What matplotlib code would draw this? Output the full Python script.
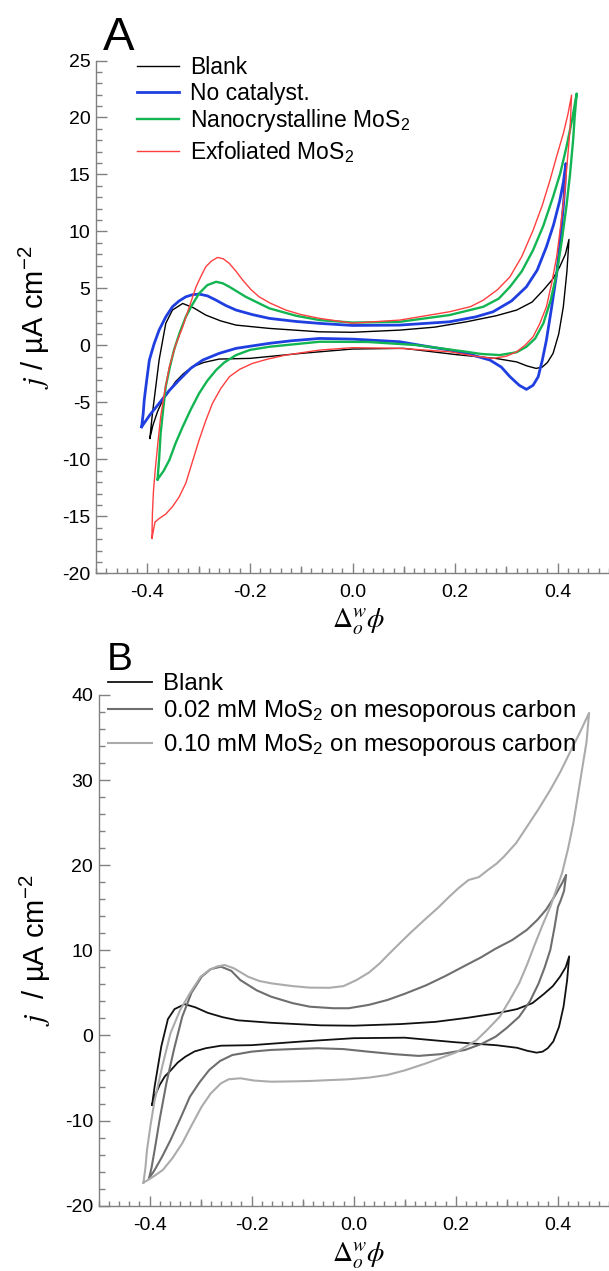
import matplotlib
matplotlib.use("Agg")
import matplotlib.pyplot as plt
from matplotlib.lines import Line2D
from matplotlib.ticker import MultipleLocator, FormatStrFormatter, NullLocator

plt.rcParams["font.family"] = ["Liberation Sans", "DejaVu Sans"]
plt.rcParams["mathtext.fontset"] = "stix"
plt.rcParams["axes.unicode_minus"] = False

# ---- Panel A: CVs (potential V, current density uA cm-2), forward then reverse sweep ----
blank_x = [-0.395, -0.390, -0.377, -0.364, -0.351, -0.331, -0.310, -0.286, -0.257, -0.227,
           -0.162, -0.064, 0.000, 0.092, 0.160, 0.222, 0.280, 0.320, 0.350, 0.372, 0.390,
           0.404, 0.415, 0.422,
           0.418, 0.411, 0.402, 0.391, 0.380, 0.370, 0.358, 0.340, 0.320, 0.280, 0.200,
           0.100, 0.000, -0.100, -0.200, -0.260, -0.290, -0.312, -0.330, -0.345, -0.360,
           -0.370, -0.380, -0.389, -0.395]
blank_y = [-8.16, -5.97, -1.29, 1.93, 3.10, 3.68, 3.30, 2.66, 2.15, 1.78,
           1.49, 1.19, 1.15, 1.34, 1.60, 2.07, 2.60, 3.10, 3.80, 4.85, 5.80,
           6.90, 8.00, 9.30,
           6.50, 3.40, 1.00, -0.70, -1.50, -1.90, -2.02, -1.80, -1.45, -1.15, -0.80,
           -0.26, -0.32, -0.70, -1.14, -1.20, -1.50, -1.88, -2.50, -3.19, -4.20,
           -4.80, -5.80, -7.00, -8.16]

nocat_x = [-0.411, -0.408, -0.406, -0.401, -0.396, -0.387, -0.377, -0.364, -0.351, -0.338,
           -0.325, -0.312, -0.299, -0.283, -0.266, -0.247, -0.227, -0.195, -0.162, -0.110,
           -0.064, 0.000, 0.092, 0.189, 0.240, 0.274, 0.310, 0.339, 0.360, 0.378, 0.392,
           0.404, 0.411, 0.416,
           0.414, 0.411, 0.405, 0.398, 0.388, 0.378, 0.370, 0.362, 0.352, 0.339, 0.325,
           0.307, 0.290, 0.268, 0.230, 0.189, 0.140, 0.092, 0.000, -0.064, -0.120, -0.162,
           -0.227, -0.260, -0.292, -0.315, -0.338, -0.358, -0.377, -0.395, -0.411]
nocat_y = [-7.14, -6.00, -4.80, -3.00, -1.29, 0.10, 1.34, 2.50, 3.39, 3.90,
           4.26, 4.45, 4.50, 4.35, 3.97, 3.50, 3.10, 2.70, 2.37, 2.10,
           1.93, 1.75, 1.78, 2.07, 2.50, 2.95, 3.90, 5.14, 6.60, 8.65, 10.6,
           12.7, 14.3, 15.96,
           14.0, 12.2, 9.20, 6.30, 3.30, 0.46, -1.30, -2.75, -3.50, -3.86, -3.50,
           -2.75, -1.90, -1.29, -0.80, -0.41, -0.05, 0.32, 0.55, 0.61, 0.40, 0.18,
           -0.26, -0.70, -1.29, -2.00, -3.04, -4.00, -5.09, -6.10, -7.14]

nano_x = [-0.380, -0.377, -0.374, -0.369, -0.364, -0.356, -0.348, -0.337, -0.325, -0.312,
          -0.299, -0.283, -0.266, -0.253, -0.240, -0.208, -0.162, -0.110, -0.064, 0.000,
          0.092, 0.189, 0.255, 0.285, 0.307, 0.330, 0.352, 0.372, 0.391, 0.405, 0.417,
          0.428, 0.437,
          0.433, 0.430, 0.424, 0.417, 0.408, 0.398, 0.386, 0.372, 0.356, 0.339, 0.320,
          0.287, 0.250, 0.222, 0.124, 0.030, -0.064, -0.162, -0.200, -0.227, -0.250,
          -0.266, -0.283, -0.299, -0.315, -0.331, -0.345, -0.357, -0.368, -0.380]
nano_y = [-11.76, -10.0, -7.70, -5.60, -3.60, -1.90, -0.41, 1.10, 2.50, 3.60,
          4.56, 5.29, 5.58, 5.45, 5.14, 4.26, 3.25, 2.60, 2.22, 2.00,
          2.07, 2.66, 3.39, 4.10, 5.14, 6.50, 8.36, 10.5, 13.04, 15.1, 17.4,
          19.8, 22.1,
          20.0, 18.0, 15.0, 12.2, 9.20, 6.30, 3.90, 1.93, 0.60, -0.12, -0.60,
          -0.85, -0.75, -0.56, 0.03, 0.30, 0.32, -0.12, -0.40, -0.85, -1.50,
          -2.17, -3.10, -4.21, -5.60, -7.14, -8.60, -10.06, -11.0, -11.76]

exf_x = [-0.391, -0.390, -0.388, -0.384, -0.379, -0.374, -0.366, -0.357, -0.345, -0.331,
         -0.318, -0.305, -0.295, -0.286, -0.275, -0.263, -0.252, -0.240, -0.227, -0.214,
         -0.198, -0.182, -0.160, -0.130, -0.100, -0.064, 0.000, 0.092, 0.189, 0.230,
         0.255, 0.283, 0.307, 0.330, 0.352, 0.370, 0.385, 0.398, 0.411, 0.420, 0.427,
         0.424, 0.419, 0.414, 0.406, 0.398, 0.388, 0.378, 0.365, 0.352, 0.336, 0.320,
         0.300, 0.274, 0.240, 0.189, 0.092, 0.000, -0.064, -0.130, -0.165, -0.195,
         -0.220, -0.240, -0.257, -0.273, -0.286, -0.299, -0.312, -0.325, -0.338, -0.351,
         -0.364, -0.377, -0.385, -0.391]
exf_y = [-16.93, -14.7, -12.8, -10.65, -8.40, -6.26, -4.00, -1.88, 0.00, 1.63,
         3.40, 5.14, 6.10, 6.90, 7.40, 7.72, 7.60, 7.19, 6.50, 5.73,
         4.90, 4.26, 3.70, 3.10, 2.70, 2.37, 1.95, 2.22, 2.95, 3.40,
         3.97, 4.90, 6.02, 7.80, 10.1, 12.3, 14.5, 16.6, 18.6, 20.3, 21.96,
         18.9, 16.3, 13.6, 10.6, 7.77, 5.40, 3.39, 1.90, 0.75, 0.00, -0.56,
         -0.95, -1.14, -0.95, -0.56, -0.26, -0.20, -0.41, -0.85, -1.20, -1.58,
         -2.10, -2.75, -3.80, -5.09, -6.60, -8.30, -10.2, -12.1, -13.3, -14.16,
         -14.8, -15.2, -15.5, -16.93]

# ---- Panel B ----
mc02_x = [-0.401, -0.396, -0.390, -0.380, -0.367, -0.352, -0.336, -0.318, -0.298, -0.280,
          -0.260, -0.240, -0.222, -0.190, -0.162, -0.120, -0.086, -0.040, -0.010, 0.030,
          0.066, 0.100, 0.142, 0.180, 0.218, 0.250, 0.278, 0.310, 0.339, 0.360, 0.377,
          0.395, 0.409, 0.416,
          0.412, 0.405, 0.400, 0.393, 0.385, 0.374, 0.362, 0.345, 0.324, 0.300, 0.278,
          0.250, 0.218, 0.170, 0.127, 0.080, 0.028, -0.020, -0.071, -0.120, -0.162,
          -0.200, -0.238, -0.262, -0.283, -0.302, -0.321, -0.340, -0.359, -0.375, -0.390,
          -0.401]
mc02_y = [-16.8, -15.5, -13.45, -9.80, -5.60, -1.60, 2.20, 5.00, 6.90, 7.80,
          8.08, 7.60, 6.50, 5.30, 4.56, 3.80, 3.38, 3.20, 3.20, 3.60,
          4.17, 4.90, 5.90, 7.00, 8.20, 9.20, 10.2, 11.2, 12.4, 13.6, 14.8,
          16.5, 18.0, 18.86,
          17.0, 15.8, 15.1, 12.6, 10.05, 8.00, 6.10, 4.00, 2.20, 0.90, -0.14,
          -1.00, -1.70, -2.20, -2.40, -2.20, -1.90, -1.60, -1.50, -1.60, -1.70,
          -1.90, -2.30, -3.00, -4.05, -5.50, -7.20, -9.80, -12.3, -14.2, -15.8,
          -16.8]

mc10_x = [-0.412, -0.408, -0.405, -0.398, -0.390, -0.375, -0.359, -0.340, -0.321, -0.300,
          -0.283, -0.268, -0.253, -0.235, -0.207, -0.185, -0.162, -0.120, -0.086, -0.048,
          -0.020, 0.005, 0.030, 0.051, 0.066, 0.081, 0.110, 0.142, 0.165, 0.187, 0.205,
          0.225, 0.245, 0.263, 0.280, 0.294, 0.318, 0.339, 0.362, 0.385, 0.405, 0.423,
          0.443, 0.461,
          0.456, 0.446, 0.438, 0.430, 0.420, 0.408, 0.396, 0.385, 0.370, 0.354, 0.340,
          0.324, 0.305, 0.286, 0.262, 0.241, 0.200, 0.142, 0.100, 0.066, 0.030, -0.010,
          -0.050, -0.086, -0.125, -0.162, -0.195, -0.222, -0.245, -0.260, -0.280, -0.298,
          -0.318, -0.336, -0.355, -0.374, -0.393, -0.412]
mc10_y = [-17.3, -15.5, -13.45, -10.5, -7.60, -3.60, 0.26, 3.00, 4.96, 6.90,
          7.70, 8.10, 8.28, 7.90, 6.90, 6.40, 6.13, 5.80, 5.62, 5.60,
          5.80, 6.50, 7.40, 8.48, 9.40, 10.3, 12.0, 13.77, 15.0, 16.3, 17.3,
          18.27, 18.6, 19.45, 20.2, 21.0, 22.6, 24.5, 26.6, 28.85, 31.0, 33.2,
          35.6, 37.9,
          34.5, 30.8, 27.8, 24.9, 22.0, 19.06, 17.0, 15.1, 13.0, 10.6, 8.40,
          6.13, 4.10, 2.20, 0.70, -0.53, -2.00, -3.27, -4.10, -4.64, -4.95, -5.15,
          -5.25, -5.35, -5.40, -5.43, -5.30, -5.03, -5.15, -5.62, -6.80, -8.37,
          -10.6, -12.67, -14.4, -15.8, -16.6, -17.3]

labels_a = ["Blank", "No catalyst.", r"Nanocrystalline MoS$_{\mathregular{2}}$",
            r"Exfoliated MoS$_{\mathregular{2}}$"]
labels_b = ["Blank", r"0.02 mM MoS$_{\mathregular{2}}$ on mesoporous carbon",
            r"0.10 mM MoS$_{\mathregular{2}}$ on mesoporous carbon"]

W, H = 609, 1271
fig = plt.figure(figsize=(W / 100, H / 100), dpi=100)

axis_grey = "#808080"


def style_axes(ax, ymaj, ymin):
    ax.set_xlim(-0.5, 0.5)
    for s in ("top", "right"):
        ax.spines[s].set_visible(False)
    for s in ("left", "bottom"):
        ax.spines[s].set_color(axis_grey)
        ax.spines[s].set_linewidth(1.0)
    ax.xaxis.set_major_locator(MultipleLocator(0.2))
    ax.xaxis.set_minor_locator(MultipleLocator(0.02))
    ax.xaxis.set_major_formatter(FormatStrFormatter("%.1f"))
    ax.yaxis.set_major_locator(MultipleLocator(ymaj))
    ax.yaxis.set_minor_locator(MultipleLocator(ymin))
    ax.tick_params(which="both", direction="in", color=axis_grey, width=1.0,
                   labelsize=14, top=False, right=False)
    ax.tick_params(axis="x", which="major", length=7.2, pad=8)
    ax.tick_params(axis="x", which="minor", length=3.6)
    ax.tick_params(axis="y", which="major", length=7.7, pad=4)
    ax.tick_params(axis="y", which="minor", length=4)
    # intermediate ticks at odd tenths
    sec = ax.secondary_xaxis("bottom")
    sec.set_xticks([-0.3, -0.1, 0.1, 0.3])
    sec.set_xticklabels([])
    sec.xaxis.set_minor_locator(NullLocator())
    sec.spines["bottom"].set_visible(False)
    sec.tick_params(direction="in", length=5.2, color=axis_grey, width=1.0)


def draw_legend(lines, labels, x0, x1, xt, rows, size):
    # hand-placed legend rows (pixel positions from the top of the figure)
    for ln, lab, yr in zip(lines, labels, rows):
        fig.add_artist(Line2D([x0 / W, x1 / W], [1 - yr / H, 1 - yr / H],
                              transform=fig.transFigure, color=ln.get_color(),
                              lw=ln.get_linewidth()))
        fig.text(xt / W, 1 - (yr + 7.8) / H, lab, fontsize=size,
                 ha="left", va="baseline")


# Panel A
axA = fig.add_axes([96 / W, 1 - 573.3 / H, 1 - 96 / W, (573.3 - 60.5) / H])
lA = []
lA += axA.plot(blank_x, blank_y, color="black", lw=1.0)
lA += axA.plot(nocat_x, nocat_y, color="#1f3fe0", lw=2.0)
lA += axA.plot(nano_x, nano_y, color="#12b552", lw=1.7)
lA += axA.plot(exf_x, exf_y, color="#ff3f3f", lw=1.0)
axA.set_ylim(-20, 25)
style_axes(axA, 5, 1)
axA.set_ylabel(r"$j$ / µA cm$^{\mathregular{-2}}$", fontsize=21)
axA.yaxis.set_label_coords(-0.086, 0.5)
draw_legend(lA, labels_a, 136.7, 179, 190, [65.7, 92.3, 119, 151], 16.5)
fig.text(359 / W, 1 - 628 / H, r"$\Delta_o^w\phi$", fontsize=20, ha="center", va="baseline")
fig.text(118.5 / W, 1 - 50 / H, "A", fontsize=34, ha="center", va="baseline")

# Panel B
axB = fig.add_axes([98.5 / W, 1 - 1205.7 / H, 1 - 98.5 / W, (1205.7 - 695) / H])
lB = []
lB += axB.plot(blank_x, blank_y, color="#111111", lw=1.3)
lB += axB.plot(mc02_x, mc02_y, color="#6e6e6e", lw=1.5)
lB += axB.plot(mc10_x, mc10_y, color="#ababab", lw=1.5)
axB.set_ylim(-20, 40)
style_axes(axB, 10, 2)
axB.set_ylabel(r"$j$  / µA cm$^{\mathregular{-2}}$", fontsize=21)
axB.yaxis.set_label_coords(-0.09, 0.5)
draw_legend(lB, labels_b, 108, 152, 163, [681.7, 709.3, 742.7], 17.3)
fig.text(359 / W, 1 - 1262 / H, r"$\Delta_o^w\phi$", fontsize=20, ha="center", va="baseline")
fig.text(120 / W, 1 - 670 / H, "B", fontsize=28, ha="center", va="baseline")

fig.savefig("out.png", dpi=100)
